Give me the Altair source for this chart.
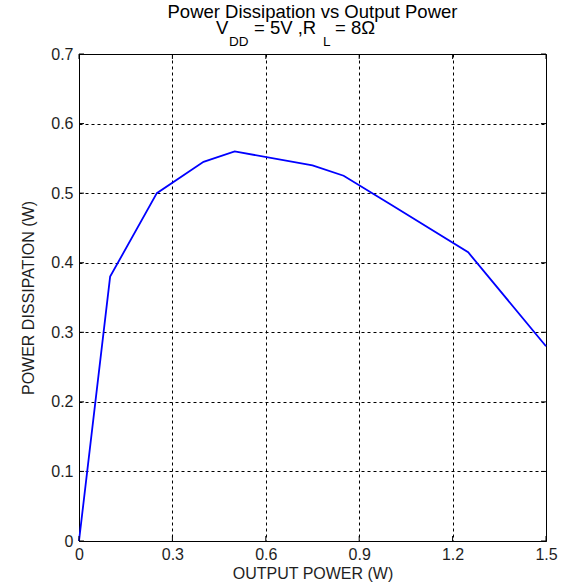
import altair as alt
import pandas as pd

# ---- data ----
output_power = [0, 0.1, 0.25, 0.4, 0.5, 0.75, 0.85, 1.0, 1.25, 1.5]
power_dissipation = [0, 0.38, 0.5, 0.545, 0.56, 0.54, 0.525, 0.484, 0.415, 0.28]
x_ticks = [0, 0.3, 0.6, 0.9, 1.2, 1.5]
y_ticks = [0, 0.1, 0.2, 0.3, 0.4, 0.5, 0.6, 0.7]
title_line1 = "Power Dissipation vs Output Power"
title_v = "V"
title_dd = "DD"
title_mid = "= 5V ,R"
title_l = "L"
title_end = "= 8Ω"
x_title = "OUTPUT POWER (W)"
y_title = "POWER DISSIPATION (W)"

W, H = 467, 487
FONT = "Liberation Sans"
TXT = "#1e1e1e"

df = pd.DataFrame({"x": output_power, "y": power_dissipation})
xt = pd.DataFrame({"x": x_ticks})
yt = pd.DataFrame({"y": y_ticks})

label_expr = "datum.value == 0 ? '0' : format(datum.value, '.1f')"
xscale = alt.Scale(domain=[0, 1.5], nice=False, zero=False)
yscale = alt.Scale(domain=[0, 0.7], nice=False, zero=False)

x_axis = alt.Axis(
    values=x_ticks, labelExpr=label_expr, title=x_title,
    grid=True, gridDash=[3, 3], gridColor="black", gridOpacity=1, gridWidth=1,
    ticks=False, domain=False, labelPadding=5, labelFlush=False,
    labelFont=FONT, labelFontSize=16, labelColor=TXT,
    titleFont=FONT, titleFontSize=16, titleFontWeight="normal", titleColor=TXT,
    titleY=37, titleBaseline="alphabetic",
)
y_axis = alt.Axis(
    values=y_ticks, labelExpr=label_expr, title=y_title,
    grid=True, gridDash=[3, 3], gridColor="black", gridOpacity=1, gridWidth=1,
    ticks=False, domain=False, labelPadding=6, labelFlush=False,
    labelFont=FONT, labelFontSize=16, labelColor=TXT,
    titleFont=FONT, titleFontSize=16, titleFontWeight="normal", titleColor=TXT,
    titleX=-46, titleY=H / 2, titleBaseline="alphabetic", titleAngle=-90,
)

X = alt.X("x:Q", scale=xscale, axis=x_axis)
Y = alt.Y("y:Q", scale=yscale, axis=y_axis)

line = alt.Chart(df).mark_line(color="#0000ff", strokeWidth=1.8).encode(x=X, y=Y)

tick_bottom = alt.Chart(xt).mark_rule(color="black").encode(
    x=X, y=alt.value(H), y2=alt.value(H - 5))
tick_top = alt.Chart(xt).mark_rule(color="black").encode(
    x=X, y=alt.value(0), y2=alt.value(5))
tick_left = alt.Chart(yt).mark_rule(color="black").encode(
    y=Y, x=alt.value(0), x2=alt.value(5))
tick_right = alt.Chart(yt).mark_rule(color="black").encode(
    y=Y, x=alt.value(W - 5), x2=alt.value(W))


def txt(s, x, y, size, align):
    return alt.Chart(pd.DataFrame({"t": [s]})).mark_text(
        font=FONT, fontSize=size, color="black", align=align,
        baseline="alphabetic").encode(
        text="t:N", x=alt.value(x), y=alt.value(y))


titles = [
    txt(title_line1, W / 2, -36, 18.5, "center"),
    txt(title_v, 137, -20, 18.5, "left"),
    txt(title_dd, 150, -8, 13.5, "left"),
    txt(title_mid, 175, -20, 18.5, "left"),
    txt(title_l, 244, -8, 13.5, "left"),
    txt(title_end, 256, -20, 18.5, "left"),
]

chart = alt.layer(
    line, tick_bottom, tick_top, tick_left, tick_right, *titles
).properties(
    width=W, height=H,
    autosize=alt.AutoSizeParams(type="none"),
    padding={"left": 79, "top": 54, "right": 17, "bottom": 41},
    background="white",
).configure_view(stroke="black", strokeWidth=1)

chart.save("out.html", embed_options={"renderer": "svg", "actions": False})
